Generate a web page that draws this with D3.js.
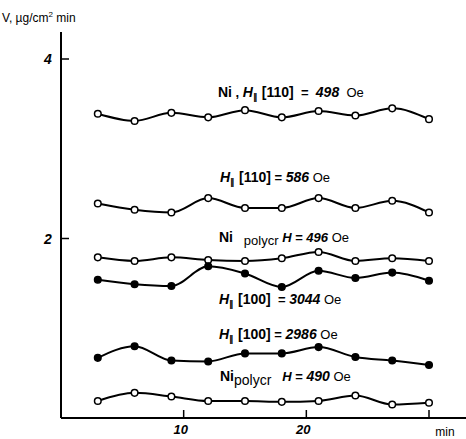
<!DOCTYPE html>
<html>
<head>
<meta charset="utf-8">
<script src="https://cdn.jsdelivr.net/npm/d3@7"></script>
<style>
  body { margin: 0; background: #fff; }
  text { font-family: "Liberation Sans", Arial, sans-serif; fill: #000; white-space: pre; }
</style>
</head>
<body>
<div id="chart"></div>
<script>
// time, min
const times = [3, 6, 9, 12, 15, 18, 21, 24, 27, 30];

// dissolution rate V, ug/cm2 min
const niH110_498 = [3.39, 3.31, 3.40, 3.35, 3.43, 3.35, 3.42, 3.37, 3.45, 3.33];
const h110_586 = [2.39, 2.32, 2.29, 2.45, 2.34, 2.34, 2.45, 2.34, 2.42, 2.29];
const polycr_496 = [1.79, 1.75, 1.79, 1.76, 1.75, 1.78, 1.85, 1.75, 1.78, 1.75];
const h100_3044 = [1.54, 1.49, 1.47, 1.69, 1.61, 1.46, 1.64, 1.56, 1.62, 1.53];
const h100_2986 = [0.67, 0.80, 0.64, 0.63, 0.72, 0.72, 0.79, 0.68, 0.64, 0.59];
const polycr_490 = [0.19, 0.28, 0.24, 0.19, 0.19, 0.18, 0.19, 0.25, 0.15, 0.17];

const yTicks = [2, 4];
const xTicks = [10, 20, 30];
const xTickLabels = ['10', '20', ''];

const seriesList = [
  { values: niH110_498, filled: false },
  { values: h110_586, filled: false },
  { values: polycr_496, filled: false },
  { values: h100_3044, filled: true },
  { values: h100_2986, filled: true },
  { values: polycr_490, filled: false }
];

const width = 466, height = 439;
const svg = d3.select('#chart').append('svg')
  .attr('width', width)
  .attr('height', height);

const x = d3.scaleLinear().domain([0, 30]).range([61, 429]);
const y = d3.scaleLinear().domain([0, 4]).range([418, 59]);

// axis lines with inward ticks
svg.append('line')
  .attr('x1', x(0)).attr('x2', x(0))
  .attr('y1', 32).attr('y2', y(0))
  .attr('stroke', '#000').attr('stroke-width', 2);
svg.append('line')
  .attr('x1', x(0)).attr('x2', 466)
  .attr('y1', y(0)).attr('y2', y(0))
  .attr('stroke', '#000').attr('stroke-width', 2);

const yAxis = svg.append('g');
yAxis.selectAll('line').data(yTicks).join('line')
  .attr('x1', x(0)).attr('x2', x(0) + 8)
  .attr('y1', d => y(d)).attr('y2', d => y(d))
  .attr('stroke', '#000').attr('stroke-width', 1.5);
yAxis.selectAll('text').data(yTicks).join('text')
  .attr('x', x(0) - 13).attr('y', d => y(d) + 5)
  .attr('text-anchor', 'middle')
  .style('font-size', '14px')
  .style('font-weight', 'bold')
  .style('font-style', 'italic')
  .text(d => d);

const xAxis = svg.append('g');
xAxis.selectAll('line').data(xTicks).join('line')
  .attr('x1', d => x(d)).attr('x2', d => x(d))
  .attr('y1', y(0)).attr('y2', y(0) - 8)
  .attr('stroke', '#000').attr('stroke-width', 1.5);
xAxis.selectAll('text').data(xTicks).join('text')
  .attr('x', d => x(d) - 3).attr('y', y(0) + 16)
  .attr('text-anchor', 'middle')
  .style('font-size', '13px')
  .style('font-weight', 'bold')
  .style('font-style', 'italic')
  .text((d, i) => xTickLabels[i]);

svg.append('text')
  .attr('x', 445).attr('y', 436)
  .attr('text-anchor', 'middle')
  .style('font-size', '12px')
  .text('min');

// y-axis title
const yTitle = svg.append('text').attr('x', 2).attr('y', 22).style('font-size', '12px');
yTitle.append('tspan').text('V, \u00b5g/cm');
yTitle.append('tspan').attr('dy', -5).style('font-size', '8px').text('2');
yTitle.append('tspan').attr('dy', 5).text(' min');

// curves
const line = d3.line()
  .x((d, i) => x(times[i]))
  .y(d => y(d))
  .curve(d3.curveMonotoneX);

seriesList.forEach(s => {
  svg.append('path')
    .datum(s.values)
    .attr('d', line)
    .attr('fill', 'none')
    .attr('stroke', '#000')
    .attr('stroke-width', 2);
  svg.append('g').selectAll('circle').data(s.values).join('circle')
    .attr('cx', (d, i) => x(times[i]))
    .attr('cy', d => y(d))
    .attr('r', 3.3)
    .attr('fill', s.filled ? '#000' : '#fff')
    .attr('stroke', '#000')
    .attr('stroke-width', 1.5);
});

// series labels
function addLabel(px, py, parts) {
  const t = svg.append('text').attr('x', px).attr('y', py).style('font-size', '13px');
  parts.forEach(p => {
    const sp = t.append('tspan').text(p.t);
    if (p.b) sp.style('font-weight', 'bold');
    if (p.i) sp.style('font-style', 'italic');
    if (p.dy) sp.attr('dy', p.dy);
    if (p.s) sp.style('font-size', p.s);
  });
}
const H = [{ t: 'H', b: 1, i: 1, s: '14px' }, { t: '\u2225', b: 1, dy: 3, s: '9px' }];

addLabel(218, 97, [{ t: 'Ni', b: 1, s: '14px' }, { t: ' , ', b: 1 }, ...H,
  { t: ' [110]', b: 1, dy: -3, s: '14px' }, { t: '  =  ', b: 1 }, { t: '498', b: 1, i: 1, s: '14px' }, { t: '  Oe' }]);
addLabel(220, 182, [...H,
  { t: ' [110]', b: 1, dy: -3, s: '14px' }, { t: ' = ', b: 1 }, { t: '586', b: 1, i: 1, s: '14px' }, { t: ' Oe' }]);
addLabel(219, 242, [{ t: 'Ni', b: 1, s: '14px' }, { t: '   polycr ', dy: 3 },
  { t: 'H', b: 1, i: 1, dy: -3 }, { t: ' = ', b: 1 }, { t: '496', b: 1, i: 1 }, { t: ' Oe' }]);
addLabel(219, 304, [...H,
  { t: ' [100]', b: 1, dy: -3, s: '14px' }, { t: '  = ', b: 1 }, { t: '3044', b: 1, i: 1, s: '14px' }, { t: ' Oe' }]);
addLabel(219, 339, [...H,
  { t: ' [100]', b: 1, dy: -3, s: '14px' }, { t: ' = ', b: 1 }, { t: '2986', b: 1, i: 1, s: '14px' }, { t: ' Oe' }]);
addLabel(220, 381, [{ t: 'Ni', b: 1, s: '14px' }, { t: 'polycr', dy: 4, s: '14px' },
  { t: '   H', b: 1, i: 1, dy: -4 }, { t: ' = ', b: 1 }, { t: '490', b: 1, i: 1, s: '14px' }, { t: ' Oe' }]);
</script>
</body>
</html>
